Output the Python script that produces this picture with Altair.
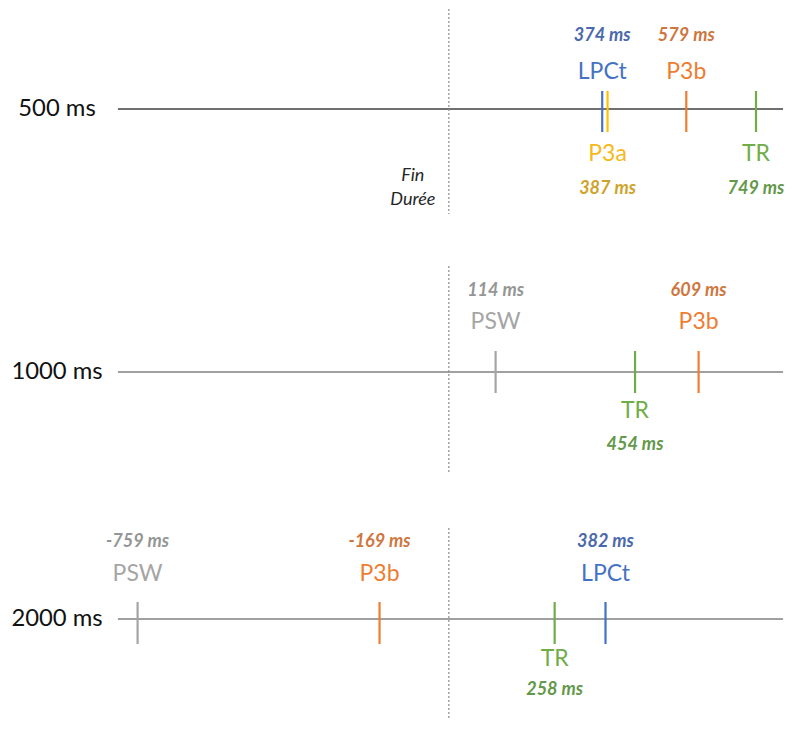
import altair as alt
import pandas as pd

# ---------------- data ----------------
rows = ["500 ms", "1000 ms", "2000 ms"]

ev_row = ["500 ms", "500 ms", "500 ms", "500 ms",
          "1000 ms", "1000 ms", "1000 ms",
          "2000 ms", "2000 ms", "2000 ms", "2000 ms"]
ev_comp = ["LPCt", "P3a", "P3b", "TR",
           "PSW", "TR", "P3b",
           "PSW", "P3b", "TR", "LPCt"]
ev_ms = [374, 387, 579, 749,
         114, 454, 609,
         -759, -169, 258, 382]
ev_side = ["above", "below", "above", "below",
           "above", "below", "above",
           "above", "above", "below", "above"]

components = ["LPCt", "P3a", "P3b", "TR", "PSW"]
label_colors = ["#4472C4", "#F5B918", "#ED7D31", "#70AD47", "#A5A5A5"]
value_colors = ["#4A69AC", "#CFA32C", "#CF763E", "#64984A", "#959595"]
tick_colors = ["#4472C4", "#FFC000", "#ED7D31", "#70AD47", "#A5A5A5"]

marker_ms = [0]
marker_text = ["Fin\nDurée"]

LINE_START, LINE_END = -807, 815

df = pd.DataFrame({"row": ev_row, "comp": ev_comp, "ms": ev_ms, "side": ev_side})
df["value"] = df["ms"].astype(str) + " ms"

# ---------------- style ----------------
FONT = "Lato"
W = 777
L = 100  # line position inside each panel
STYLE = {
    "500 ms": dict(h=263, line="#404040", dash=(-100, 105), tick=(-18, 23),
                   la=-37.5, va=-73, lb=45, vb=79.5),
    "1000 ms": dict(h=247, line="#808080", dash=(-106, 102), tick=(-21, 21),
                    la=-50, va=-81, lb=39, vb=73),
    "2000 ms": dict(h=200, line="#808080", dash=(-91, 100), tick=(-17, 25),
                    la=-45.5, va=-77, lb=40, vb=71),
}

XSCALE = alt.Scale(domain=[-1075.0, 819.7], nice=False, zero=False)
color_lab = alt.Color("comp:N", scale=alt.Scale(domain=components, range=label_colors), legend=None)
stroke_tick = alt.Stroke("comp:N", scale=alt.Scale(domain=components, range=tick_colors), legend=None)
fill_val = alt.Fill("comp:N", scale=alt.Scale(domain=components, range=value_colors), legend=None)


def panel(row, first):
    st = STYLE[row]
    d = df[df["row"] == row]
    x = alt.X("ms:Q", scale=XSCALE, axis=None)

    line = alt.Chart(pd.DataFrame({"a": [LINE_START], "b": [LINE_END]})).mark_rule(
        color=st["line"], strokeWidth=1.4
    ).encode(x=alt.X("a:Q", scale=XSCALE, axis=None), x2="b:Q", y=alt.value(L))

    dash = alt.Chart(pd.DataFrame({"ms": marker_ms})).mark_rule(
        color="#8C8C8C", strokeWidth=1.2, strokeDash=[2, 2]
    ).encode(x=x, y=alt.value(L + st["dash"][0]), y2=alt.value(L + st["dash"][1]))

    base = alt.Chart(d)
    ticks = base.mark_rule(strokeWidth=2.2).encode(
        x=x, y=alt.value(L + st["tick"][0]), y2=alt.value(L + st["tick"][1]), stroke=stroke_tick
    )

    def txt(side, kind, off):
        if kind == "comp":
            m = base.transform_filter(alt.datum.side == side).mark_text(
                font=FONT, fontSize=23, baseline="middle", align="center")
            return m.encode(x=x, y=alt.value(L + off), text="comp:N", color=color_lab)
        m = base.transform_filter(alt.datum.side == side).mark_text(
            font=FONT, fontSize=18, fontStyle="italic", fontWeight="bold",
            baseline="middle", align="center")
        return m.encode(x=x, y=alt.value(L + off), text="value:N", fill=fill_val)

    row_lab = alt.Chart(pd.DataFrame({"row": [row]})).mark_text(
        font=FONT, fontSize=23.8, align="center", baseline="middle", color="#111111"
    ).encode(x=alt.value(49), y=alt.value(L), text="row:N")

    layers = [line, dash, ticks,
              txt("above", "comp", st["la"]), txt("above", "value", st["va"]),
              txt("below", "comp", st["lb"]), txt("below", "value", st["vb"]),
              row_lab]
    if first:
        fin = alt.Chart(pd.DataFrame({"ms": marker_ms, "t": marker_text})).mark_text(
            font=FONT, fontSize=18, fontStyle="italic", lineBreak="\n", lineHeight=24,
            baseline="middle", align="center", dx=-36, color="#262626"
        ).encode(x=x, y=alt.value(L + 67), text="t:N")
        layers.append(fin)
    return alt.layer(*layers).properties(width=W, height=st["h"])


panels = [panel(r, i == 0) for i, r in enumerate(rows)]
chart = alt.vconcat(*panels, spacing=0, bounds="flush").properties(
    padding=0, background="white"
).configure_view(stroke=None)

chart.save("out.html", embed_options={"renderer": "svg", "actions": False})
